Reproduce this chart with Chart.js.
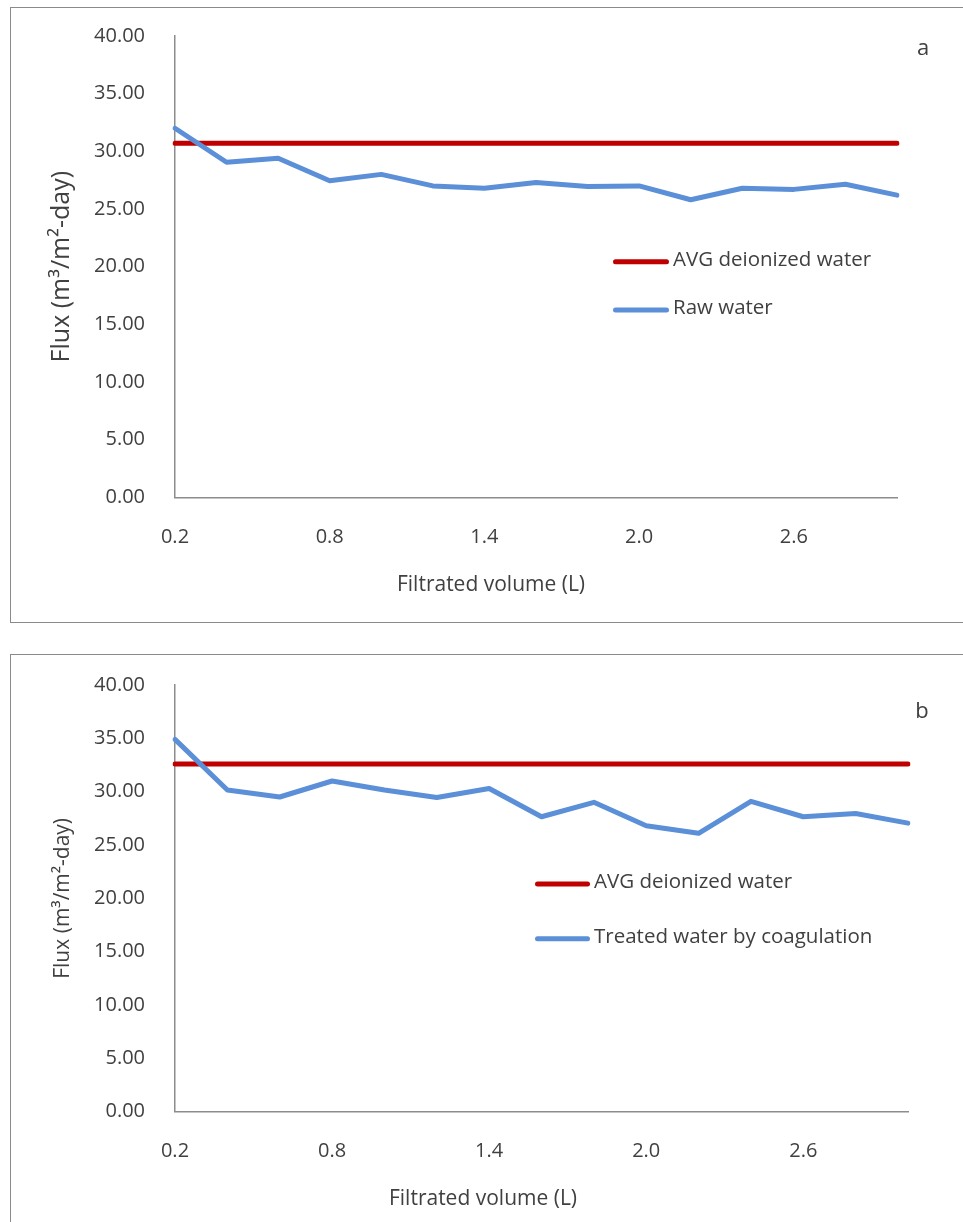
<!DOCTYPE html>
<html>
<head>
<meta charset="utf-8">
<script src="https://cdn.jsdelivr.net/npm/chart.js@4/dist/chart.umd.min.js"></script>
<style>
  html, body { margin: 0; padding: 0; background: #fff; }
  body { width: 963px; height: 1222px; position: relative; overflow: hidden; }
  .frame { position: absolute; border: 1px solid #8a8a8a; box-sizing: border-box; }
  #frameA { left: 10px; top: 7px; width: 975px; height: 616px; }
  #frameB { left: 10px; top: 654px; width: 975px; height: 600px; }
  .box { position: absolute; left: 0; }
  #boxA { top: -20px; }
  #boxB { top: 640px; }
</style>
</head>
<body>
<div class="frame" id="frameA"></div>
<div class="frame" id="frameB"></div>
<div class="box" id="boxA"><canvas id="chartA" width="963" height="640"></canvas></div>
<div class="box" id="boxB"><canvas id="chartB" width="963" height="582"></canvas></div>
<script>
// Filtrated volume (L) at each measurement
const volumes = ['0.2', '0.4', '0.6', '0.8', '1.0', '1.2', '1.4', '1.6', '1.8', '2.0', '2.2', '2.4', '2.6', '2.8', '3.0'];
// Category labels printed on the x axis
const xTickLabels = ['0.2', '0.8', '1.4', '2.0', '2.6'];

// Panel a: raw water
const deionizedA = [30.7, 30.7, 30.7, 30.7, 30.7, 30.7, 30.7, 30.7, 30.7, 30.7, 30.7, 30.7, 30.7, 30.7, 30.7];
const rawWater = [32.0, 29.05, 29.4, 27.45, 28.0, 27.0, 26.8, 27.3, 26.95, 27.0, 25.8, 26.8, 26.7, 27.15, 26.2];

// Panel b: coagulation-treated water
const deionizedB = [32.6, 32.6, 32.6, 32.6, 32.6, 32.6, 32.6, 32.6, 32.6, 32.6, 32.6, 32.6, 32.6, 32.6, 32.6];
const coagulated = [34.9, 30.15, 29.5, 31.0, 30.15, 29.45, 30.3, 27.65, 29.0, 26.8, 26.1, 29.1, 27.65, 27.95, 27.05];

const seriesNames = {
  deionized: 'AVG deionized water',
  raw: 'Raw water',
  coag: 'Treated water by coagulation'
};
const yTitle = 'Flux (m\u00B3/m\u00B2-day)';
const xTitle = 'Filtrated volume (L)';

const RED = '#c00000';
const BLUE = '#5b8fd7';
const TEXT = '#404040';
const AXIS = '#8c8c8c';
const FONT = "'Open Sans', sans-serif";

Chart.defaults.font.family = FONT;
Chart.defaults.color = TEXT;

// Draws the in-plot legend, the panel letter and the x-axis title
const annotate = {
  id: 'annotate',
  afterDraw(chart, args, o) {
    const ctx = chart.ctx;
    ctx.save();
    ctx.font = o.legendSize + 'px ' + FONT;
    ctx.textAlign = 'left';
    ctx.textBaseline = 'alphabetic';
    chart.data.datasets.forEach((ds, i) => {
      const y = o.legendY[i];
      ctx.strokeStyle = ds.borderColor;
      ctx.lineWidth = ds.borderWidth;
      ctx.lineCap = 'round';
      ctx.beginPath();
      ctx.moveTo(o.legendX + 2.5, y);
      ctx.lineTo(o.legendX + o.sampleLen - 2.5, y);
      ctx.stroke();
      ctx.fillStyle = TEXT;
      ctx.fillText(ds.label, o.legendX + o.sampleLen + 4, y + o.textDrop);
    });
    ctx.textAlign = 'center';
    ctx.font = '22px ' + FONT;
    ctx.fillText(o.letter, o.letterX, o.letterY);
    ctx.font = '21px ' + FONT;
    ctx.textBaseline = 'middle';
    ctx.fillText(xTitle, o.xTitleX, o.xTitleY);
    ctx.restore();
  }
};

function makeChart(id, lines, geo, extra) {
  return new Chart(document.getElementById(id), {
    type: 'line',
    data: {
      labels: volumes,
      datasets: lines.map(l => ({
        label: l.name,
        data: l.values,
        borderColor: l.color,
        backgroundColor: l.color,
        borderWidth: 5,
        tension: 0,
        pointRadius: 0,
        borderCapStyle: 'round',
        borderJoinStyle: 'round',
        order: l.order
      }))
    },
    options: {
      responsive: false,
      animation: false,
      events: [],
      layout: { padding: { top: geo.top, right: geo.right, bottom: 0, left: 0 } },
      scales: {
        x: {
          type: 'category',
          offset: false,
          grid: { display: false, drawTicks: false },
          border: { display: true, color: AXIS, width: 1.5 },
          ticks: {
            autoSkip: false,
            maxRotation: 0,
            padding: 28,
            font: { size: 20 },
            color: TEXT,
            callback(value) {
              const lab = this.getLabelForValue(value);
              return xTickLabels.includes(lab) ? lab : '';
            }
          },
          afterFit(scale) { scale.height = geo.xHeight; }
        },
        y: {
          min: 0,
          max: 40,
          grid: { display: false, drawTicks: false },
          border: { display: true, color: AXIS, width: 1.5 },
          ticks: {
            stepSize: 5,
            padding: 30,
            font: { size: 20 },
            color: TEXT,
            callback: v => Number(v).toFixed(2)
          },
          title: {
            display: true,
            text: yTitle,
            color: TEXT,
            font: { size: geo.yTitleSize },
            padding: { top: geo.yTitlePad, bottom: 0 }
          },
          afterFit(scale) { scale.width = 175; }
        }
      },
      plugins: {
        legend: { display: false },
        tooltip: { enabled: false },
        annotate: extra
      }
    },
    plugins: [annotate]
  });
}

// Panel a canvas sits 20px above the page top
makeChart('chartA', [
  { name: seriesNames.deionized, values: deionizedA, color: RED, order: 1 },
  { name: seriesNames.raw, values: rawWater, color: BLUE, order: 0 }
], { top: 56, right: 66, xHeight: 122.7, yTitleSize: 25, yTitlePad: 47 }, {
  legendX: 613, sampleLen: 56, legendY: [281.7, 330], textDrop: 4, legendSize: 20.5,
  letter: 'a', letterX: 923, letterY: 75,
  xTitleX: 491, xTitleY: 605
});

makeChart('chartB', [
  { name: seriesNames.deionized, values: deionizedB, color: RED, order: 1 },
  { name: seriesNames.coag, values: coagulated, color: BLUE, order: 0 }
], { top: 45, right: 55, xHeight: 110.3, yTitleSize: 21, yTitlePad: 50 }, {
  legendX: 535, sampleLen: 55, legendY: [244, 298.8], textDrop: 4.3, legendSize: 20.5,
  letter: 'b', letterX: 922, letterY: 78,
  xTitleX: 483, xTitleY: 559
});
</script>
</body>
</html>
